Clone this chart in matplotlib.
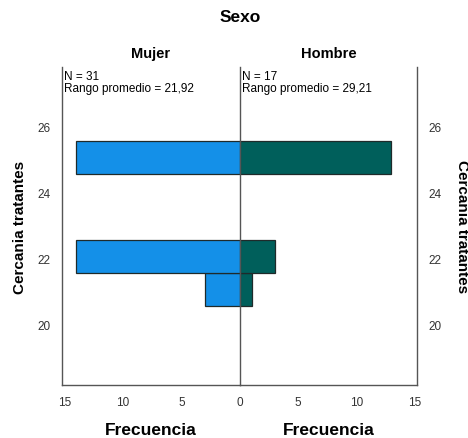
import matplotlib

matplotlib.use("Agg")
import matplotlib.pyplot as plt  # noqa: E402

# bin centres of "Cercania tratantes" and frequencies per group
bins = [21.05, 22.05, 25.05]
mujer = [3, 14, 14]
hombre = [1, 3, 13]
groups = ["Mujer", "Hombre"]
stats = ["N = 31\nRango promedio = 21,92", "N = 17\nRango promedio = 29,21"]
yticks = [20, 22, 24, 26]
left_xticks = [15, 10, 5, 0]
right_xticks = [5, 10, 15]

plt.rcParams["font.family"] = ["Liberation Sans", "DejaVu Sans"]

W, H = 468, 439
fig = plt.figure(figsize=(W / 100, H / 100), dpi=100)
x0, xc, x1 = 62, 240, 417
yb, yt = 386, 68
axl = fig.add_axes([x0 / W, 1 - yb / H, (xc - x0) / W, (yb - yt) / H])
axr = fig.add_axes([xc / W, 1 - yb / H, (x1 - xc) / W, (yb - yt) / H])

xmax = 15.23
ylim = (18.16, 27.8)
edge = "#1f2a2a"
line = "#555555"

axl.barh(bins, mujer, height=1.0, color="#1490e8", edgecolor=edge, linewidth=0.9, zorder=2)
axr.barh(bins, hombre, height=1.0, color="#005f5b", edgecolor=edge, linewidth=0.9, zorder=2)

axl.set_xlim(xmax, 0)
axr.set_xlim(0, xmax)
for ax in (axl, axr):
    ax.set_ylim(*ylim)
    ax.set_yticks(yticks)
    ax.spines["top"].set_visible(False)
    for s in ax.spines.values():
        s.set_color(line)
        s.set_linewidth(1.0)
    ax.tick_params(length=0, labelsize=8.5, labelcolor="#333333", pad=8)
    ax.set_xlabel("Frecuencia", fontsize=12.5, fontweight="bold", labelpad=10)

axl.set_xticks(left_xticks)
axr.set_xticks(right_xticks)
axl.spines["right"].set_visible(False)
axr.spines["left"].set_zorder(3)
axr.patch.set_alpha(0)
axr.yaxis.tick_right()
axr.yaxis.set_label_position("right")

axl.set_ylabel("Cercania tratantes", fontsize=11, fontweight="bold", labelpad=8)
axr.set_ylabel("Cercania tratantes", fontsize=11, fontweight="bold", rotation=-90,
               labelpad=20)

for ax, g in zip((axl, axr), groups):
    ax.set_title(g, fontsize=10.5, fontweight="bold", pad=7)
axl.text(xmax - 0.2, 27.7, stats[0], fontsize=8.5, va="top", ha="left", linespacing=1.0)
axr.text(0.2, 27.7, stats[1], fontsize=8.5, va="top", ha="left", linespacing=1.0)

fig.text(xc / W, 1 - 18 / H, "Sexo", fontsize=12.5, fontweight="bold", ha="center", va="center")

fig.savefig("out.png", dpi=100)
